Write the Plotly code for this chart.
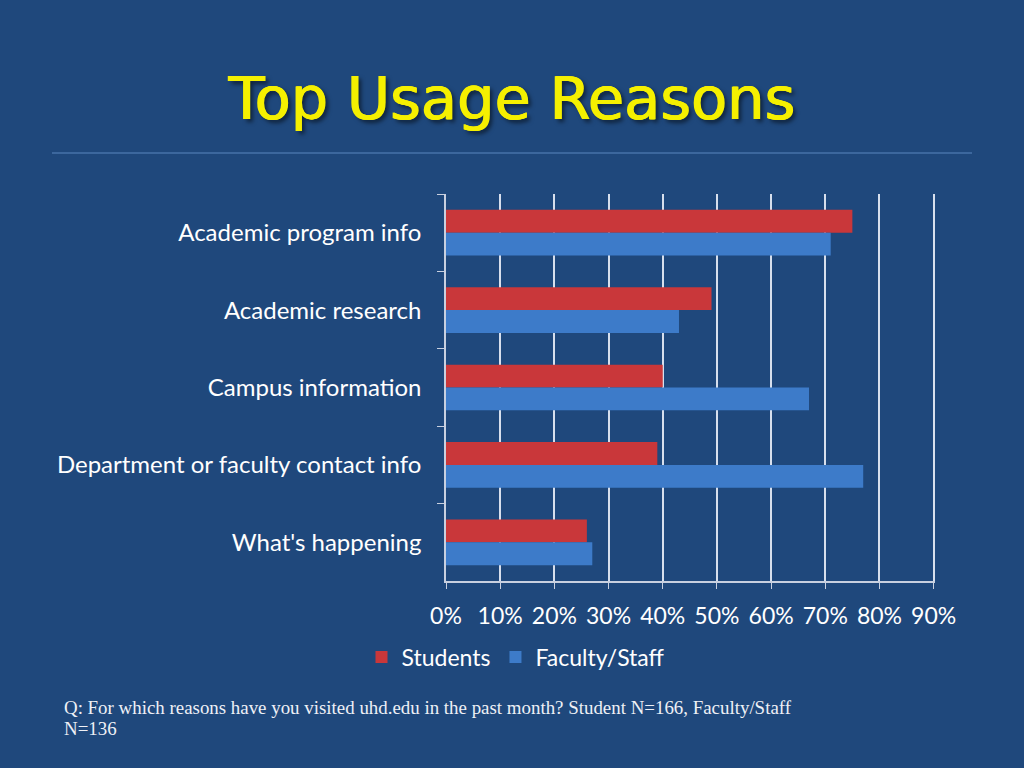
import plotly.graph_objects as go

categories = ["Academic program info", "Academic research", "Campus information",
              "Department or faculty contact info", "What's happening"]
students = [75, 49, 40, 39, 26]
faculty_staff = [71, 43, 67, 77, 27]
series_names = ["Students", "Faculty/Staff"]
x_ticks = [0, 10, 20, 30, 40, 50, 60, 70, 80, 90]

BG = "#1F487C"
RED = "#C9373A"
BLUE = "#3D7BC9"

L, R, T, B = 446, 935, 194, 581
PW, PH = R - L, B - T

def px_x(p):
    return (p - L) / PW

def px_y(p):
    return (B - p) / PH

fig = go.Figure()
fig.add_trace(go.Bar(y=categories, x=students, name=series_names[0], orientation="h",
                     marker=dict(color=RED, line=dict(width=0))))
fig.add_trace(go.Bar(y=categories, x=faculty_staff, name=series_names[1], orientation="h",
                     marker=dict(color=BLUE, line=dict(width=0))))

fig.update_layout(
    width=1024, height=768, autosize=False,
    paper_bgcolor=BG, plot_bgcolor=BG,
    margin=dict(l=L, r=1024 - R, t=T, b=768 - B),
    barmode="group", bargap=0.41, bargroupgap=0,
    font=dict(family="Lato, Open Sans, sans-serif", color="white", size=23),
    title=dict(text="Top Usage Reasons", x=0.5, xref="container", xanchor="center",
               y=1 - 98 / 768, yref="container", yanchor="middle",
               font=dict(family="DejaVu Sans, sans-serif", size=59, color="#F5F000",
                         shadow="0.6px 0 0 #F5F000, -0.6px 0 0 #F5F000, 3px 3px 4px rgba(0,0,0,0.55)")),
    xaxis=dict(range=[0, 90.25], tickvals=x_ticks, ticktext=[f"{v}%" for v in x_ticks],
               showgrid=True, gridcolor="rgba(235,240,250,0.9)", gridwidth=1.5,
               showline=True, linecolor="#C8D0E0", linewidth=1.5,
               ticks="outside", ticklen=6, tickcolor="#C8D0E0",
               ticklabelstandoff=8, zeroline=False,
               tickfont=dict(size=23, color="white"), fixedrange=True),
    yaxis=dict(autorange="reversed", tickson="boundaries", ticks="outside", ticklen=7,
               tickcolor="#C8D0E0", showline=True, linecolor="#C8D0E0", linewidth=1.5,
               showgrid=False, ticklabelstandoff=18,
               tickfont=dict(size=24, color="white"), fixedrange=True),
    legend=dict(orientation="h", x=px_x(516), xanchor="center", y=px_y(657), yanchor="middle",
                font=dict(size=23, color="white"), bgcolor="rgba(0,0,0,0)",
                itemwidth=30, traceorder="normal"),
    showlegend=True,
)

fig.add_shape(type="line", xref="paper", yref="paper",
              x0=px_x(52), x1=px_x(972), y0=px_y(153), y1=px_y(153),
              line=dict(color="#5A86BE", width=1))

fig.add_annotation(xref="paper", yref="paper", x=px_x(62), y=px_y(707),
                   xanchor="left", yanchor="middle", align="left", showarrow=False,
                   text="Q: For which reasons have you visited uhd.edu in the past month? Student N=166, Faculty/Staff",
                   font=dict(family="Liberation Serif, DejaVu Serif, serif", size=18.9, color="#EEF0F6"))
fig.add_annotation(xref="paper", yref="paper", x=px_x(62), y=px_y(728),
                   xanchor="left", yanchor="middle", align="left", showarrow=False,
                   text="N=136",
                   font=dict(family="Liberation Serif, DejaVu Serif, serif", size=18.9, color="#EEF0F6"))

fig.write_html("out.html", config={"displayModeBar": False},
               post_script="document.body.style.margin='0';document.body.style.overflow='hidden';")
